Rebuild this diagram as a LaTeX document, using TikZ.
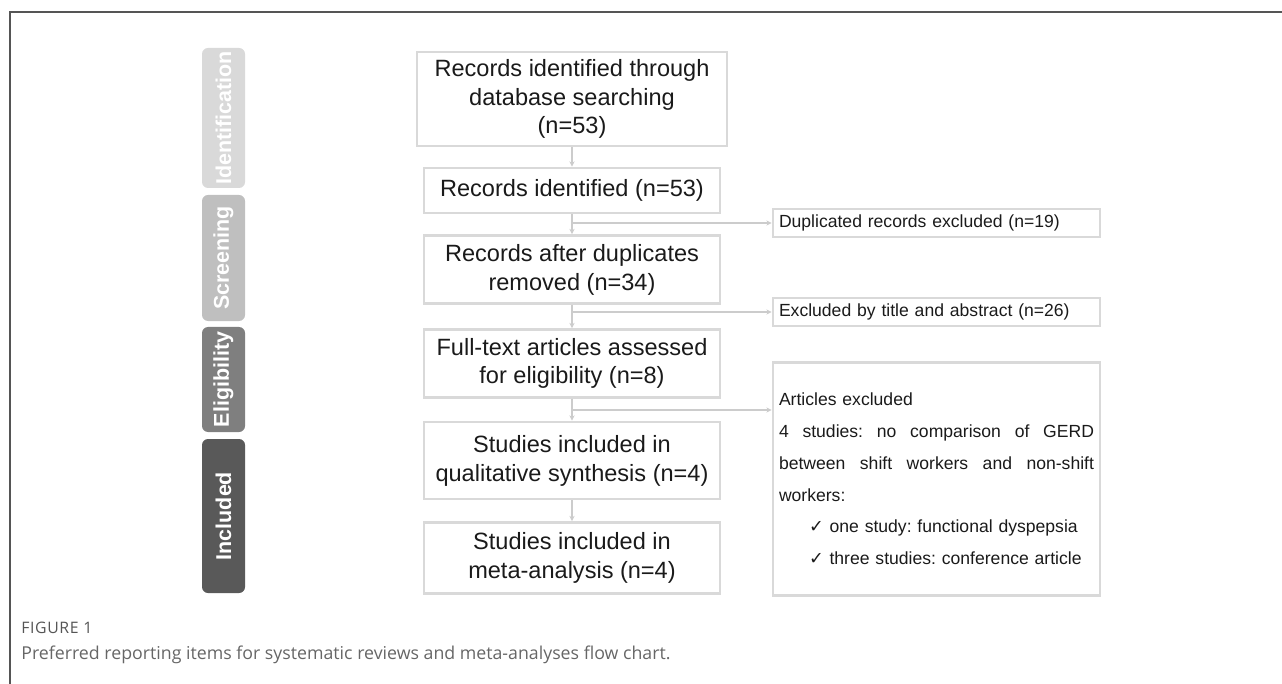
\documentclass[tikz,border=0pt]{standalone}
\usepackage{fontspec}
\setmainfont{Liberation Sans}
\newfontfamily\capfont{Open Sans}
\newfontfamily\symfont{DejaVu Sans}
\usetikzlibrary{arrows.meta}

\definecolor{framegray}{HTML}{555555}
\definecolor{boxgray}{HTML}{D9D9D9}
\definecolor{linkgray}{HTML}{CCCCCC}
\definecolor{identgray}{HTML}{D9D9D9}
\definecolor{screengray}{HTML}{BFBFBF}
\definecolor{eligray}{HTML}{7F7F7F}
\definecolor{inclgray}{HTML}{595959}
\definecolor{capgray}{HTML}{666666}
\definecolor{inkgray}{HTML}{1A1A1A}

% justified line in the exclusion box
\newcommand{\spreadline}[1]{\makebox[63mm][s]{\spaceskip=0pt\relax #1}}
\newcommand{\tick}{\hspace*{6mm}{\symfont\fontsize{10}{12}\selectfont ✓}~}

\tikzset{
  mainbox/.style={draw=boxgray, line width=1.6pt, align=center, text=inkgray,
    minimum width=59.2mm, inner sep=0pt,
    font=\fontsize{13.4}{16.4}\selectfont},
  sidebox/.style={draw=boxgray, line width=1.6pt, align=left, text=inkgray,
    text width=63mm, inner xsep=1.2mm, inner ysep=0pt,
    font=\fontsize{10}{12}\selectfont\frenchspacing},
  phase/.style={rounded corners=1.2mm, rotate=90, minimum height=8.6mm,
    inner sep=0pt, text=white, font=\bfseries\fontsize{12.2}{14}\selectfont},
  link/.style={draw=linkgray, line width=0.7pt, -{Stealth[length=3pt,width=3pt]}},
}

\begin{document}
\begin{tikzpicture}[x=0.2mm, y=-0.2mm]
  \useasboundingbox (0,0) rectangle (1282,684);
  \draw [framegray, line width=1.1pt] (1282,12) -- (10,12) -- (10,684);

  % phases
  \node [phase, fill=identgray, minimum width=28mm] (ident) at (223.5,118) {Identification};
  \node [phase, fill=screengray, minimum width=25.2mm] (screen) at (223.5,258) {Screening};
  \node [phase, fill=eligray, minimum width=21mm] (elig) at (223.5,379.5) {Eligibility};
  \node [phase, fill=inclgray, minimum width=30.8mm] (incl) at (223.5,516) {Included};

  % main flow
  \node [mainbox, minimum width=62mm, minimum height=18.8mm] (found) at (572,99)
    {Records identified through\\database searching\\(n=53)};
  \node [mainbox, minimum height=9mm] (records) at (572,190.5) {Records identified (n=53)};
  \node [mainbox, minimum height=13.6mm] (nodup) at (572,269.5)
    {Records after duplicates\\removed (n=34)};
  \node [mainbox, minimum height=13.6mm] (full) at (572,363.5)
    {Full-text articles assessed\\for eligibility (n=8)};
  \node [mainbox, minimum height=15.4mm] (quali) at (572,460.5)
    {Studies included in\\qualitative synthesis (n=4)};
  \node [mainbox, minimum height=14.2mm] (meta) at (572,558)
    {Studies included in\\meta-analysis (n=4)};

  % exclusions
  \node [sidebox, minimum height=5.6mm] (dup) at (936.5,223) {Duplicated records excluded (n=19)};
  \node [sidebox, minimum height=5.6mm] (title) at (936.5,312) {Excluded by title and abstract (n=26)};
  \node [sidebox, minimum height=46.6mm, font=\fontsize{10}{18.1}\selectfont\frenchspacing] (artex) at (936.5,479)
    {Articles excluded\\
     \spreadline{4 studies: no comparison of GERD}\\
     \spreadline{between shift workers and non-shift}\\
     workers:\\
     \tick one study: functional dyspepsia\\
     \tick three studies: conference article};

  \draw [link] (found) -- (records);
  \draw [link] (records) -- (nodup);
  \draw [link] (nodup) -- (full);
  \draw [link] (full) -- (quali);
  \draw [link] (quali) -- (meta);
  \draw [link] (records.south |- dup.west) -- (dup.west);
  \draw [link] (nodup.south |- title.west) -- (title.west);
  \draw [link] (full.south |- 0,410) coordinate (fork) -- (artex.west |- fork);

  % caption
  \node [anchor=west, inner sep=0pt, text=framegray, font=\capfont\addfontfeature{LetterSpace=4}\fontsize{9}{11}\selectfont] (fignum) at (21,628) {FIGURE 1};
  \node [anchor=west, inner sep=0pt, text=capgray, font=\capfont\fontsize{10.1}{12}\selectfont] (caption) at (21,655)
    {Preferred reporting items for systematic reviews and meta-analyses flow chart.};
\end{tikzpicture}
\end{document}
